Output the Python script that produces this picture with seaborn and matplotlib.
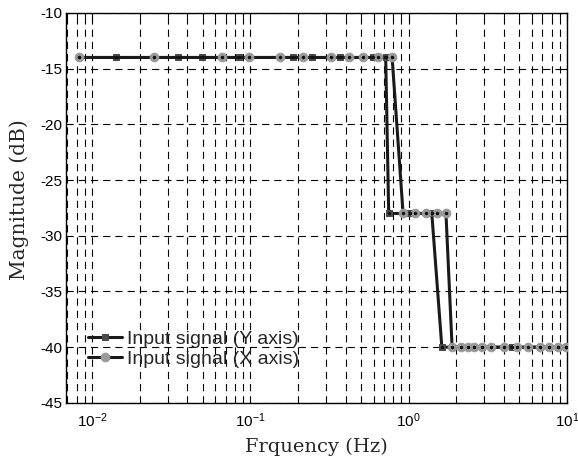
import numpy as np
import pandas as pd
import matplotlib
matplotlib.use("Agg")
import matplotlib.pyplot as plt
import seaborn as sns
from matplotlib.ticker import LogLocator

# Data
freq_y = [0.00828, 0.01419, 0.0349, 0.0495, 0.0849, 0.186, 0.245, 0.369, 0.593, 0.716,
          0.748, 1.019, 1.40,
          1.62, 4.50, 9.86]
mag_y = [-14, -14, -14, -14, -14, -14, -14, -14, -14, -14,
         -28, -28, -28,
         -40, -40, -40]

freq_x = [0.00828, 0.0247, 0.0663, 0.0981, 0.154, 0.215, 0.323, 0.420, 0.515, 0.641, 0.786,
          0.922, 1.098, 1.288, 1.51, 1.72,
          1.88, 2.14, 2.37, 2.59, 2.91, 3.32, 4.01, 4.84, 5.68, 6.76, 7.71, 8.80, 9.86]
mag_x = [-14] * 11 + [-28] * 5 + [-40] * 13

label_y = "Input signal (Y axis)"
label_x = "Input signal (X axis)"

sns.set_theme(style="white")
plt.rcParams["font.family"] = ["Liberation Sans", "DejaVu Sans"]
plt.rcParams["mathtext.fontset"] = "custom"
plt.rcParams["mathtext.rm"] = "Liberation Sans"
plt.rcParams["mathtext.it"] = "Liberation Sans"
plt.rcParams["axes.unicode_minus"] = False

fig = plt.figure(figsize=(5.78, 4.61), dpi=100)
ax = fig.add_axes([0.115, 0.126, 0.866, 0.846])

dfy = pd.DataFrame({"f": freq_y, "m": mag_y})
dfx = pd.DataFrame({"f": freq_x, "m": mag_x})

sns.lineplot(data=dfy, x="f", y="m", ax=ax, color="#1a1a1a", lw=2.2,
             marker="s", markersize=5, markerfacecolor="#4a4a4a",
             markeredgecolor="#4a4a4a", label=label_y, zorder=3)
sns.lineplot(data=dfx, x="f", y="m", ax=ax, color="#1a1a1a", lw=2.2,
             marker="o", markersize=6.2, markerfacecolor="#9a9a9a",
             markeredgecolor="#9a9a9a", label=label_x, zorder=4)
# small dark centre dots
ax.plot(dfy["f"], dfy["m"], ls="none", marker="o", ms=1.4, color="#111111", zorder=5)
ax.plot(dfx["f"], dfx["m"], ls="none", marker="o", ms=1.5, color="#111111", zorder=6)

ax.set_xscale("log")
ax.set_xlim(0.0069, 10)
ax.set_ylim(-45, -10)
ax.set_yticks(np.arange(-45, -9, 5))

ax.xaxis.set_major_locator(LogLocator(base=10, numticks=10))
ax.xaxis.set_minor_locator(LogLocator(base=10, subs=np.arange(2, 10), numticks=20))

dash = (0, (6.5, 4.5))
ax.grid(True, which="major", axis="both", color="black", ls=dash, lw=0.8)
ax.grid(True, which="minor", axis="x", color="black", ls=dash, lw=0.8)

ax.tick_params(axis="both", which="both", direction="in", top=True, right=True,
               colors="black", labelsize=11)
ax.tick_params(which="major", length=5, width=0.8)
ax.tick_params(which="minor", length=3, width=0.8)
ax.tick_params(axis="x", which="major", pad=6)
ax.tick_params(axis="y", which="major", pad=3)
for s in ax.spines.values():
    s.set_color("black")
    s.set_linewidth(1.0)

ax.set_xlabel("Frquency (Hz)", fontsize=14, family=["DejaVu Serif"], labelpad=6)
ax.set_ylabel("Magnitude (dB)", fontsize=14.5, family=["DejaVu Serif"], labelpad=2)
ax.yaxis.set_label_coords(-0.074, 0.52)

leg = ax.legend(loc="upper left", bbox_to_anchor=(0.043, 0.187), frameon=False,
                prop={"family": ["Liberation Sans", "DejaVu Sans"], "size": 14},
                handlelength=1.75, handletextpad=0.25, borderpad=0.0,
                borderaxespad=0.0, labelspacing=0.12)

fig.savefig("out.png", dpi=100)
